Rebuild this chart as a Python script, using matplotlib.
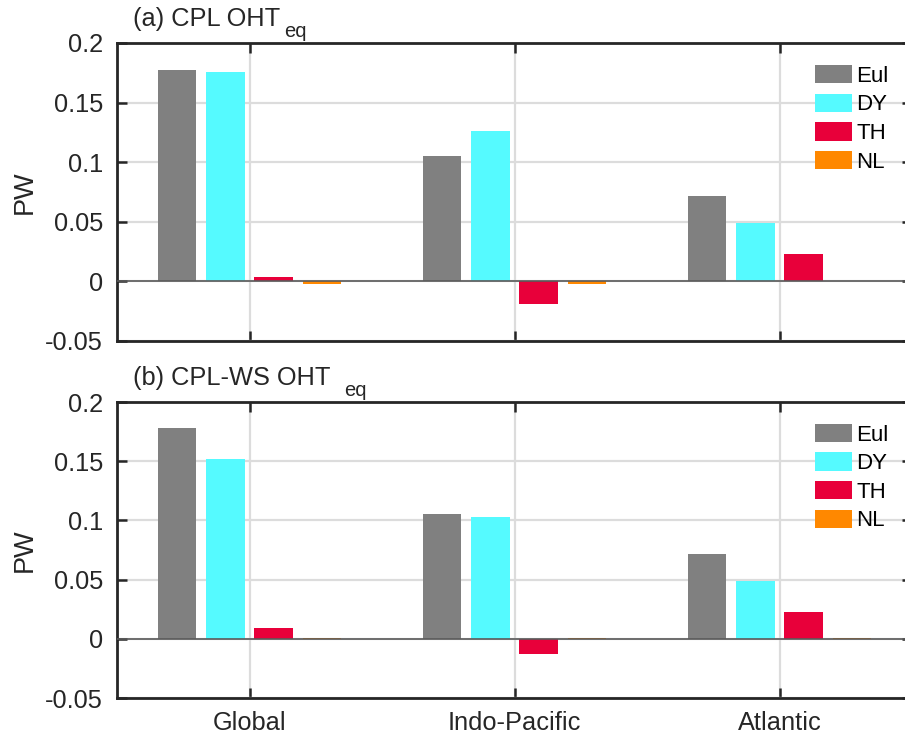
import numpy as np
import matplotlib
matplotlib.use('Agg')
import matplotlib.pyplot as plt

plt.rcParams['font.family'] = ['Liberation Sans', 'DejaVu Sans']

regions = ['Global', 'Indo-Pacific', 'Atlantic']
terms = ['Eul', 'DY', 'TH', 'NL']
colors = ['#808080', '#55FAFF', '#E8003A', '#FF8800']

# OHT_eq decomposition (PW), one list per term, in region order
cpl_eul = [0.177, 0.105, 0.072]
cpl_dy = [0.176, 0.126, 0.049]
cpl_th = [0.004, -0.019, 0.023]
cpl_nl = [-0.0025, -0.0025, 0.0003]

ws_eul = [0.178, 0.105, 0.072]
ws_dy = [0.152, 0.103, 0.0485]
ws_th = [0.0095, -0.013, 0.0225]
ws_nl = [0.0003, 0.0003, 0.0003]

panels = [
    ('(a) CPL OHT', [cpl_eul, cpl_dy, cpl_th, cpl_nl], 3.0),
    ('(b) CPL-WS OHT', [ws_eul, ws_dy, ws_th, ws_nl], 10),
]

W, H = 905, 737
fig = plt.figure(figsize=(W / 100, H / 100), dpi=100)

# axes boxes in pixels (left, top, right, bottom); right spine falls just off the canvas
boxes = [(117, 43, 912, 341), (117, 402, 912, 698)]

x = np.arange(1, len(regions) + 1)
step = 0.182
width = 0.1455
fs = 18.3
ink = '#262626'

for i, ((title, series, subgap), (l, t, r, b)) in enumerate(zip(panels, boxes)):
    ax = fig.add_axes([l / W, 1 - b / H, (r - l) / W, (b - t) / H])
    for k, (vals, name, c) in enumerate(zip(series, terms, colors)):
        ax.bar(x + (k - 1.5) * step, vals, width, color=c, label=name,
               edgecolor='none', zorder=3)
    ax.axhline(0, color='#5a5a5a', lw=1.2, zorder=4)

    ax.set_xlim(0.5, 3.5)
    ax.set_ylim(-0.05, 0.2)
    ax.set_yticks([-0.05, 0, 0.05, 0.1, 0.15, 0.2])
    ax.set_yticklabels(['-0.05', '0', '0.05', '0.1', '0.15', '0.2'])
    ax.set_xticks(x)
    if i == 1:
        ax.set_xticklabels(regions)
    else:
        ax.set_xticklabels([])

    ax.grid(True, color='#dcdcdc', lw=1.6, zorder=0)
    ax.set_axisbelow(True)
    ax.tick_params(direction='in', length=7, width=1.8, colors=ink,
                   labelsize=fs, top=True, right=True, pad=10,
                   labelcolor=ink)
    ax.tick_params(axis='x', pad=9)
    for s in ax.spines.values():
        s.set_linewidth(2)
        s.set_color(ink)

    ax.set_ylabel('PW', fontsize=19.5, color=ink)
    ax.yaxis.set_label_coords(-0.1, 0.5)

    main = ax.annotate(title, xy=(0.02, 1), xycoords='axes fraction',
                       xytext=(0, 12), textcoords='offset points',
                       ha='left', va='baseline', fontsize=fs, color=ink)
    ax.annotate('eq', xy=(1, 1), xycoords=(main, 'axes fraction'),
                xytext=(subgap, 4.5), textcoords='offset points',
                ha='left', va='baseline', fontsize=14.5, color=ink)

    ax.legend(loc='upper left', bbox_to_anchor=(0.878, 0.926), frameon=False,
              fontsize=16, borderpad=0, borderaxespad=0, handlelength=1.67,
              handleheight=0.9, labelspacing=0.3, handletextpad=0.2)

fig.savefig('out.png', dpi=100)
